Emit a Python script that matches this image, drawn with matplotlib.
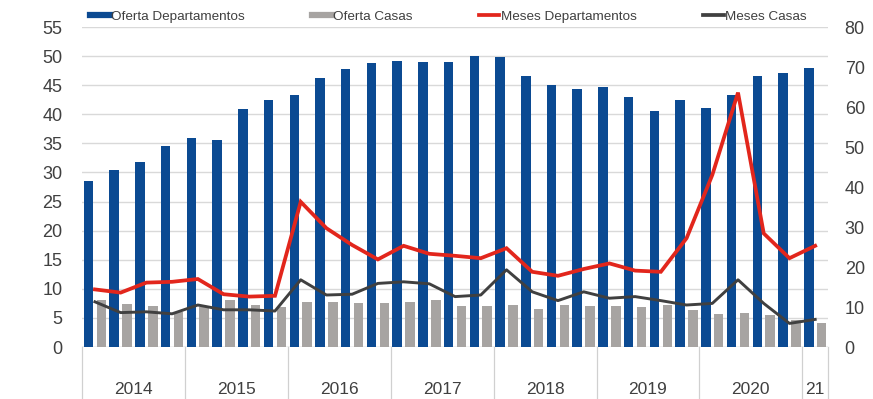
import numpy as np
import matplotlib
matplotlib.use('Agg')
import matplotlib.pyplot as plt
from matplotlib.lines import Line2D

plt.rcParams['font.family'] = ['Liberation Sans', 'DejaVu Sans']

# trimestres 2014 Q1 -> 2021 Q1
years = ['2014', '2015', '2016', '2017', '2018', '2019', '2020', '21']
quarters_per_year = [4, 4, 4, 4, 4, 4, 4, 1]

oferta_deptos = [28.6, 30.4, 31.8, 34.5, 35.9, 35.5, 40.9, 42.5,
                 43.4, 46.3, 47.8, 48.9, 49.2, 49.0, 49.0, 50.1,
                 49.8, 46.5, 45.0, 44.3, 44.7, 43.0, 40.6, 42.5,
                 41.0, 43.3, 46.6, 47.1, 48.0]
oferta_casas = [8.0, 7.4, 7.0, 6.1, 6.9, 8.0, 7.2, 6.8,
                7.8, 7.8, 7.5, 7.5, 7.8, 8.0, 7.1, 7.1,
                7.3, 6.6, 7.3, 7.0, 7.0, 6.9, 7.2, 6.4,
                5.6, 5.8, 5.5, 4.6, 4.1]
meses_deptos = [14.4, 13.6, 16.1, 16.3, 17.0, 13.2, 12.6, 12.8,
                36.3, 29.7, 25.5, 21.9, 25.3, 23.3, 22.8, 22.2,
                24.7, 18.8, 17.8, 19.5, 20.9, 19.1, 18.8, 27.2,
                43.0, 63.6, 28.4, 22.2, 25.3]
meses_casas = [11.3, 8.6, 8.8, 8.3, 10.5, 9.3, 9.3, 9.0,
               16.8, 13.0, 13.2, 15.9, 16.3, 15.8, 12.6, 13.0,
               19.3, 13.8, 11.6, 13.8, 12.2, 12.6, 11.6, 10.5,
               10.9, 16.8, 10.9, 5.9, 6.9]

blue = '#0B4A92'
gray = '#A7A4A2'
red = '#E2261C'
dark = '#404040'
txt = '#404040'

n = len(oferta_deptos)
x = np.arange(n)
w = 0.37

fig = plt.figure(figsize=(8.73, 3.99), dpi=100)
ax = fig.add_axes([0.094, 0.1303, 0.8545, 0.802])
ax2 = ax.twinx()

ax.bar(x - 0.25, oferta_deptos, w, color=blue, zorder=2)
ax.bar(x + 0.25, oferta_casas, w, color=gray, zorder=2)
ax2.plot(x, meses_deptos, color=red, lw=2.7, solid_joinstyle='miter')
ax2.plot(x, meses_casas, color=dark, lw=2.1)

ax.set_xlim(-0.5, n - 0.5)
ax.set_ylim(0, 55)
ax.set_yticks(range(0, 56, 5))
ax2.set_ylim(0, 80)
ax2.set_yticks(range(0, 81, 10))
ax.yaxis.grid(True, color='#D9D9D9', lw=1.0, zorder=0)
ax.set_axisbelow(True)
ax.set_xticks([])

for a in (ax, ax2):
    for s in a.spines.values():
        s.set_visible(False)
    a.tick_params(length=0, labelsize=13, colors=txt)
ax.tick_params(axis='y', pad=14)
ax2.tick_params(axis='y', pad=12)
ax.axhline(0, color='#D9D9D9', lw=1.0, zorder=1)

# eje de categorias (años) debajo
pos = -0.5
trans = ax.get_xaxis_transform()
ax.plot([pos, pos], [0, -0.17], color='#D0D0D0', lw=0.9, transform=trans, clip_on=False)
for yr, q in zip(years, quarters_per_year):
    ax.text(pos + q / 2.0, -0.132, yr, transform=trans, ha='center', va='center',
            fontsize=12.5, color=txt)
    pos += q
    ax.plot([pos, pos], [0, -0.17], color='#D0D0D0', lw=0.9, transform=trans, clip_on=False)

handles = [Line2D([], [], color=blue, lw=4.5),
           Line2D([], [], color=gray, lw=4.5),
           Line2D([], [], color=red, lw=2.7),
           Line2D([], [], color=dark, lw=2.7)]
labels = ['Oferta Departamentos', 'Oferta Casas', 'Meses Departamentos', 'Meses Casas']
leg = ax.legend(handles, labels, ncol=4, loc='center left', bbox_to_anchor=(0.01, 1.032),
                frameon=False, fontsize=9.7, handlelength=1.5, handletextpad=0.1,
                columnspacing=4.95, borderaxespad=0, borderpad=0)
for t in leg.get_texts():
    t.set_color(txt)

plt.savefig('out.png', dpi=100)
